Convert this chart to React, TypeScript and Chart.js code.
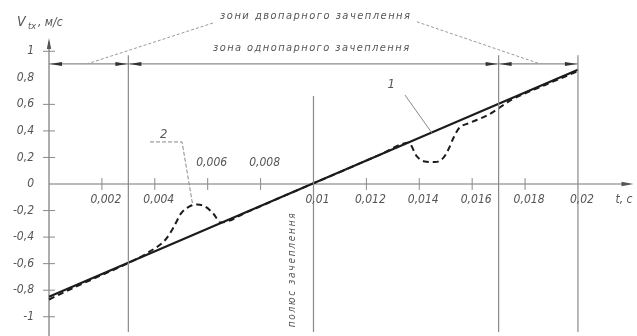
import React, { useEffect, useRef } from "react";
import { Chart, registerables } from "chart.js";
Chart.register(...registerables);

// ---------- data ----------
const xTicks = [0.002, 0.004, 0.006, 0.008, 0.01, 0.012, 0.014, 0.016, 0.018, 0.02];
const xTickLabels = ["0,002", "0,004", "0,006", "0,008", "0,01", "0,012", "0,014", "0,016", "0,018", "0,02"];
const xLabelAbove = [false, false, true, true, false, false, false, false, false, false];
const xTickNoMark = [0.01, 0.02];

const yTicks = [1, 0.8, 0.6, 0.4, 0.2, 0, -0.2, -0.4, -0.6, -0.8, -1];
const yTickLabels = ["1", "0,8", "0,6", "0,4", "0,2", "0", "-0,2", "-0,4", "-0,6", "-0,8", "-1"];
const yTickNoMark = [0.8, 0];

// curve 1 (straight)
const line1T = [0, 0.02];
const line1V = [-0.85, 0.86];

// curve 2 (dashed, with deviations)
const curve2T = [0, 0.001, 0.002, 0.003, 0.0038, 0.0044, 0.0047, 0.005, 0.0053, 0.0056, 0.0059, 0.0062, 0.0065, 0.0075, 0.009, 0.011, 0.0125, 0.0136, 0.0139, 0.0142, 0.0146, 0.0149, 0.0151, 0.0153, 0.0155, 0.0159, 0.0166, 0.0175, 0.0188, 0.02];
const curve2V = [-0.87, -0.775, -0.685, -0.595, -0.51, -0.42, -0.33, -0.22, -0.17, -0.155, -0.17, -0.22, -0.29, -0.21, -0.08, 0.09, 0.22, 0.31, 0.21, 0.17, 0.165, 0.195, 0.26, 0.35, 0.42, 0.46, 0.52, 0.635, 0.75, 0.85];

// zone boundaries and pitch point
const zoneBoundsT = [0.003, 0.017, 0.02];
const zoneTop = 0.97;
const zoneBottom = -1.115;
const pitchT = 0.01;
const pitchTop = 0.663;
const dimLevel = 0.905;
const dimArrowsRight = [0.003, 0.017, 0.02]; // arrows pointing right (tip at t)
const dimArrowsLeft = [0, 0.003, 0.017]; // arrows pointing left (tip at t)

const X_MIN = 0, X_MAX = 0.0221, Y_MIN = -1.13, Y_MAX = 1.1;

const FONT = '"DejaVu Sans Condensed", "DejaVu Sans", sans-serif';
const TEXT = "#555";
const THIN = "#8a8a8a";
const DARK = "#1c1c1c";

function fitText(ctx: CanvasRenderingContext2D, text: string, x: number, y: number, width: number) {
  (ctx as any).letterSpacing = "0px";
  const w = ctx.measureText(text).width;
  const n = text.length;
  const ls = n > 1 ? (width - w) / (n - 1) : 0;
  (ctx as any).letterSpacing = ls.toFixed(2) + "px";
  ctx.fillText(text, x, y);
  (ctx as any).letterSpacing = "0px";
}

function arrow(ctx: CanvasRenderingContext2D, tx: number, ty: number, dx: number, dy: number, len: number, hw: number) {
  const bx = tx - dx * len, by = ty - dy * len;
  ctx.beginPath();
  ctx.moveTo(tx, ty);
  ctx.lineTo(bx - dy * hw, by + dx * hw);
  ctx.lineTo(bx + dy * hw, by - dx * hw);
  ctx.closePath();
  ctx.fill();
}

const drawing = {
  id: "drawing",
  beforeDatasetsDraw(chart: any) {
    const { ctx, scales } = chart;
    const X = (t: number) => scales.x.getPixelForValue(t);
    const Y = (v: number) => scales.y.getPixelForValue(v);
    ctx.save();
    ctx.strokeStyle = "#777";
    ctx.fillStyle = "#555";
    ctx.lineWidth = 1.2;
    // y axis
    ctx.beginPath();
    ctx.moveTo(X(0), Y(Y_MIN) + 2);
    ctx.lineTo(X(0), Y(Y_MAX) + 4);
    ctx.stroke();
    arrow(ctx, X(0), Y(Y_MAX), 0, -1, 11, 2.2);
    // x axis
    ctx.beginPath();
    ctx.moveTo(X(0), Y(0));
    ctx.lineTo(X(X_MAX) - 4, Y(0));
    ctx.stroke();
    arrow(ctx, X(X_MAX), Y(0), 1, 0, 12, 2.2);
    // tick marks
    ctx.lineWidth = 1;
    ctx.strokeStyle = THIN;
    yTicks.forEach((v) => {
      if (yTickNoMark.includes(v)) return;
      ctx.beginPath();
      ctx.moveTo(X(0) - 6, Y(v));
      ctx.lineTo(X(0) + 6, Y(v));
      ctx.stroke();
    });
    xTicks.forEach((t) => {
      if (xTickNoMark.includes(t)) return;
      ctx.beginPath();
      ctx.moveTo(X(t), Y(0) - 6);
      ctx.lineTo(X(t), Y(0) + 6);
      ctx.stroke();
    });
    ctx.restore();
  },
  afterDatasetsDraw(chart: any) {
    const { ctx, scales } = chart;
    const X = (t: number) => scales.x.getPixelForValue(t);
    const Y = (v: number) => scales.y.getPixelForValue(v);
    ctx.save();
    // dimension arrows
    ctx.fillStyle = "#333";
    dimArrowsRight.forEach((t) => arrow(ctx, X(t) - 1, Y(dimLevel), 1, 0, 12, 2));
    dimArrowsLeft.forEach((t) => arrow(ctx, X(t) + 1, Y(dimLevel), -1, 0, 12, 2));

    // leader lines
    ctx.strokeStyle = "#999";
    ctx.lineWidth = 1;
    ctx.setLineDash([3, 2]);
    ctx.beginPath();
    ctx.moveTo(X(0.0062), Y(1.213));
    ctx.lineTo(X(0.00144), Y(dimLevel));
    ctx.moveTo(X(0.01391), Y(1.222));
    ctx.lineTo(X(0.01857), Y(dimLevel));
    ctx.stroke();
    ctx.setLineDash([]);
    ctx.strokeStyle = "#888";
    ctx.beginPath();
    ctx.moveTo(X(0.01346), Y(0.67));
    ctx.lineTo(X(0.01448), Y(0.384));
    ctx.stroke();
    ctx.beginPath();
    ctx.moveTo(X(0.00382), Y(0.317));
    ctx.lineTo(X(0.00503), Y(0.317));
    ctx.setLineDash([4, 2]);
    ctx.lineTo(X(0.00544), Y(-0.166));
    ctx.stroke();
    ctx.setLineDash([]);

    // texts
    ctx.fillStyle = TEXT;
    ctx.textBaseline = "middle";
    ctx.font = `italic 12px ${FONT}`;
    ctx.textAlign = "right";
    yTicks.forEach((v, i) => {
      ctx.fillText(yTickLabels[i], X(0) - 15, Y(v));
    });
    ctx.textAlign = "center";
    xTicks.forEach((t, i) => {
      const yy = xLabelAbove[i] ? Y(0) - 21 : Y(0) + 16;
      ctx.fillText(xTickLabels[i], X(t) + 4, yy);
    });
    ctx.textAlign = "left";
    ctx.font = `italic 12px ${FONT}`;
    ctx.fillText("t, с", X(X_MAX) - 18, Y(0) + 16);

    // y axis title
    ctx.font = `italic 14px ${FONT}`;
    ctx.fillText("V", 17, 22);
    ctx.font = `italic 9px ${FONT}`;
    ctx.fillText("tx", 28, 27);
    ctx.font = `italic 12px ${FONT}`;
    ctx.fillText(", м/с", 38, 23);

    // zone texts
    ctx.font = `italic 11px ${FONT}`;
    fitText(ctx, "зони двопарного зачеплення", X(0.00647), Y(1.262), 190);
    fitText(ctx, "зона однопарного зачеплення", X(0.0062), Y(1.02), 196);

    // curve labels
    ctx.font = `italic 13px ${FONT}`;
    ctx.fillText("1", X(0.0128), Y(0.75));
    ctx.fillText("2", X(0.0042), Y(0.37));

    // pitch point text
    ctx.save();
    ctx.translate(X(0.0092), Y(-0.65));
    ctx.rotate(-Math.PI / 2);
    ctx.textAlign = "center";
    ctx.font = `italic 10px ${FONT}`;
    ctx.textAlign = "left";
    fitText(ctx, "полюс зачеплення", -57, 0, 114);
    ctx.restore();
    ctx.restore();
  },
};

const pts = (ts: number[], vs: number[]) => ts.map((t, i) => ({ x: t, y: vs[i] }));

export default function App() {
  const ref = useRef<HTMLCanvasElement | null>(null);
  useEffect(() => {
    if (!ref.current) return;
    const thin = (data: any[]) => ({
      data,
      showLine: true,
      borderColor: THIN,
      borderWidth: 1.2,
      pointRadius: 0,
      clip: false,
    });
    const datasets: any[] = [
      ...zoneBoundsT.map((t) => thin(pts([t, t], [zoneBottom, zoneTop]))),
      thin(pts([pitchT, pitchT], [zoneBottom, pitchTop])),
      thin(pts([0, 0.02], [dimLevel, dimLevel])),
      {
        data: pts(curve2T, curve2V),
        showLine: true,
        borderColor: DARK,
        borderWidth: 2,
        borderDash: [6, 4],
        cubicInterpolationMode: "monotone",
        pointRadius: 0,
        clip: false,
      },
      {
        data: pts(line1T, line1V),
        showLine: true,
        borderColor: DARK,
        borderWidth: 2.2,
        pointRadius: 0,
        clip: false,
      },
    ];
    const chart = new Chart(ref.current, {
      type: "scatter",
      data: { datasets },
      options: {
        animation: false,
        responsive: false,
        devicePixelRatio: 1,
        layout: { padding: { left: 49, right: 3.5, top: 38, bottom: 2 } },
        plugins: { legend: { display: false }, tooltip: { enabled: false } },
        events: [],
        scales: {
          x: { type: "linear", min: X_MIN, max: X_MAX, display: false },
          y: { type: "linear", min: Y_MIN, max: Y_MAX, display: false },
        },
      },
      plugins: [drawing],
    } as any);
    return () => chart.destroy();
  }, []);
  return (
    <div style={{ position: "absolute", left: 0, top: 0, width: 637, height: 336, background: "#fff" }}>
      <canvas ref={ref} width={637} height={336} style={{ display: "block" }} />
    </div>
  );
}
